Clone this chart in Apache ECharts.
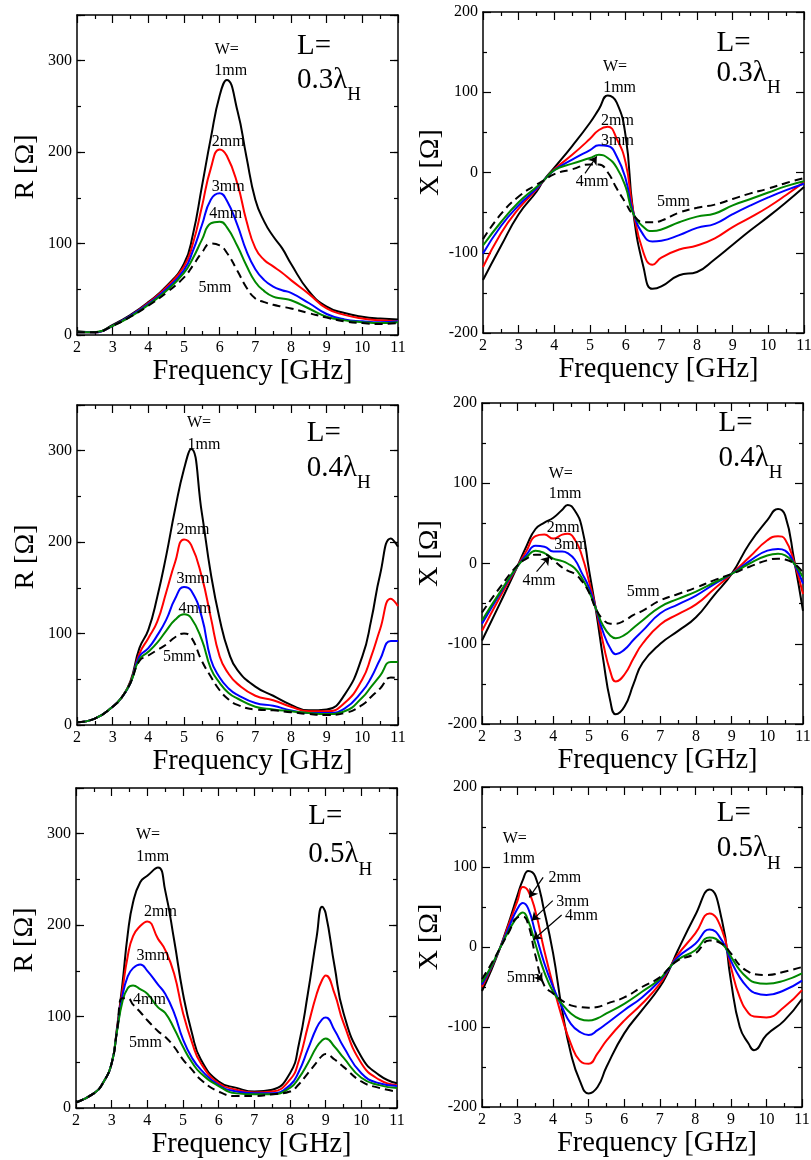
<!DOCTYPE html>
<html><head><meta charset="utf-8">
<script src="https://cdn.jsdelivr.net/npm/echarts@6/dist/echarts.min.js"></script>
<style>html,body{margin:0;padding:0;background:#fff}#c{width:811px;height:1160px}</style>
</head><body><div id="c"></div>
<script>
// ---------- DATA ----------
const widthLabels = ['1mm', '2mm', '3mm', '4mm', '5mm'];
const xTicks = [2, 3, 4, 5, 6, 7, 8, 9, 10, 11];

// L = 0.3 lambda_H, resistance R
const freqR03 = [2, 2.5, 3, 3.5, 4, 4.5, 5, 5.25, 5.5, 5.75, 6, 6.2, 6.5, 6.75, 7, 7.25, 7.5, 7.75, 8, 8.5, 9, 9.5, 10, 10.5, 11];
const R03_W1 = [4, 3, 11, 22, 36, 53, 78, 110, 162, 215, 262, 279, 245, 195, 148, 124, 108, 95, 78, 48, 31, 24, 20, 18, 17];
const R03_W2 = [3, 3, 10, 21, 35, 52, 75, 100, 140, 182, 203, 196, 165, 125, 95, 82, 75, 68, 60, 45, 29, 22, 18, 16, 15];
const R03_W3 = [3, 3, 10, 21, 34, 50, 71, 92, 120, 148, 155, 147, 120, 92, 72, 60, 53, 49, 46, 35, 23, 17, 15, 14, 15];
const R03_W4 = [3, 3, 10, 20, 33, 48, 68, 84, 104, 122, 124, 118, 97, 76, 58, 48, 42, 40, 38, 29, 20, 16, 14, 13, 14];
const R03_W5 = [3, 3, 10, 20, 32, 46, 63, 76, 90, 100, 98, 90, 70, 52, 40, 36, 33, 31, 29, 24, 19, 15, 13, 12, 13];

// L = 0.3 lambda_H, reactance X
const freqX03 = [2, 2.5, 3, 3.5, 3.7, 4, 4.5, 5, 5.25, 5.5, 5.75, 6, 6.2, 6.5, 6.75, 7, 7.5, 8, 8.5, 9, 9.5, 10, 10.5, 11];
const X03_W1 = [-134, -92, -52, -24, -10, 6, 33, 62, 79, 96, 87, 45, -45, -118, -145, -142, -128, -124, -108, -90, -72, -55, -37, -18];
const X03_W2 = [-118, -76, -45, -21, -10, 4, 22, 42, 53, 57, 42, 12, -45, -100, -115, -106, -96, -91, -82, -68, -56, -43, -28, -12];
const X03_W3 = [-101, -67, -41, -20, -10, 3, 16, 28, 34, 33, 20, -8, -48, -78, -86, -85, -78, -69, -64, -52, -41, -31, -22, -14];
const X03_W4 = [-91, -62, -37, -18, -10, 3, 11, 18, 22, 18, 6, -18, -50, -68, -73, -71, -62, -55, -51, -41, -33, -25, -17, -11];
const X03_W5 = [-83, -52, -30, -15, -10, -2, 4, 10, 10, 0, -20, -38, -52, -62, -62, -60, -50, -44, -40, -33, -26, -20, -13, -7];

// L = 0.4 lambda_H, resistance R
const freqR04 = [2, 2.5, 3, 3.25, 3.5, 3.75, 4, 4.25, 4.5, 4.75, 5, 5.2, 5.5, 5.75, 6, 6.25, 6.5, 7, 7.5, 8, 8.5, 9, 9.5, 10, 10.25, 10.5, 10.8, 11];
const R04_W1 = [3, 7, 20, 30, 48, 84, 104, 140, 185, 236, 280, 302, 232, 166, 116, 80, 60, 42, 32, 22, 16, 17, 33, 75, 115, 165, 204, 195];
const R04_W2 = [3, 7, 20, 30, 47, 78, 95, 113, 145, 178, 203, 197, 162, 118, 75, 56, 45, 32, 27, 20, 15, 15, 24, 50, 75, 105, 138, 130];
const R04_W3 = [3, 7, 20, 30, 46, 75, 84, 98, 115, 138, 151, 147, 118, 72, 52, 40, 33, 24, 21, 16, 13, 13, 18, 37, 52, 72, 92, 92];
const R04_W4 = [3, 7, 20, 30, 46, 72, 80, 90, 103, 115, 121, 117, 93, 62, 46, 35, 29, 20, 17, 15, 13, 12, 15, 30, 42, 54, 69, 69];
const R04_W5 = [3, 7, 20, 30, 46, 70, 76, 82, 88, 96, 100, 96, 70, 53, 38, 28, 22, 17, 16, 14, 12, 11, 13, 22, 31, 40, 52, 51];

// L = 0.4 lambda_H, reactance X
const freqX04 = [2, 2.5, 3, 3.25, 3.5, 3.75, 4, 4.25, 4.4, 4.6, 4.8, 5, 5.2, 5.4, 5.6, 5.75, 6, 6.25, 6.5, 7, 7.5, 8, 8.5, 9, 9.5, 10, 10.3, 10.5, 10.75, 11];
const X04_W1 = [-96, -50, -3, 22, 43, 51, 57, 67, 73, 66, 45, -8, -60, -120, -172, -188, -178, -150, -124, -100, -84, -67, -40, -13, 25, 54, 68, 60, 5, -59];
const X04_W2 = [-84, -42, -3, 16, 34, 36, 31, 36, 37, 30, 10, -22, -57, -100, -135, -147, -138, -118, -100, -76, -63, -51, -32, -13, 8, 29, 34, 30, 2, -38];
const X04_W3 = [-75, -38, -3, 11, 22, 21, 15, 15, 13, 5, -12, -30, -57, -86, -106, -113, -107, -95, -84, -62, -51, -40, -26, -13, 3, 16, 18, 16, 0, -25];
const X04_W4 = [-71, -36, -3, 8, 16, 13, 6, 3, 0, -6, -18, -35, -57, -78, -90, -93, -89, -80, -71, -54, -44, -35, -24, -13, 0, 10, 12, 10, 0, -17];
const X04_W5 = [-61, -30, -2, 6, 11, 11, 4, -5, -9, -13, -22, -36, -57, -70, -75, -75, -71, -64, -59, -46, -38, -30, -21, -13, -4, 4, 6, 5, 0, -11];

// L = 0.5 lambda_H, resistance R
const freqR05 = [2, 2.5, 2.75, 3, 3.15, 3.3, 3.45, 3.6, 3.8, 4, 4.3, 4.5, 4.75, 5, 5.25, 5.5, 6, 6.5, 7, 7.5, 8, 8.25, 8.5, 8.75, 8.9, 9, 9.25, 9.5, 10, 10.5, 11];
const R05_W1 = [6, 16, 27, 49, 88, 135, 190, 225, 247, 254, 263, 238, 184, 125, 82, 53, 29, 22, 18, 20, 38, 70, 125, 188, 220, 213, 155, 104, 56, 36, 27];
const R05_W2 = [6, 16, 27, 49, 86, 128, 166, 188, 199, 204, 185, 173, 147, 104, 72, 49, 27, 20, 17, 18, 31, 52, 89, 125, 140, 145, 125, 93, 49, 31, 25];
const R05_W3 = [6, 16, 27, 49, 85, 122, 144, 153, 157, 150, 135, 125, 104, 75, 55, 42, 25, 18, 16, 16, 25, 40, 64, 88, 97, 99, 85, 67, 38, 27, 24];
const R05_W4 = [6, 16, 27, 49, 84, 116, 131, 134, 130, 125, 110, 104, 87, 67, 50, 38, 24, 16, 15, 15, 22, 33, 49, 67, 74, 76, 67, 55, 33, 25, 22];
const R05_W5 = [6, 16, 27, 49, 84, 120, 120, 113, 105, 96, 84, 78, 67, 53, 42, 31, 18, 13, 13, 15, 18, 26, 38, 50, 57, 59, 53, 45, 29, 22, 18];

// L = 0.5 lambda_H, reactance X
const freqX05 = [2, 2.25, 2.5, 2.75, 3, 3.15, 3.3, 3.5, 3.75, 4, 4.25, 4.5, 4.75, 5, 5.25, 5.5, 6, 6.5, 7, 7.25, 7.5, 8, 8.4, 8.75, 9, 9.25, 9.5, 9.65, 10, 10.5, 11];
const X05_W1 = [-55, -30, -2, 30, 65, 84, 95, 88, 45, -8, -78, -133, -167, -183, -175, -150, -108, -79, -50, -30, -5, 40, 72, 33, -42, -100, -121, -129, -110, -92, -65];
const X05_W2 = [-50, -27, -2, 28, 58, 75, 70, 45, -4, -48, -88, -121, -142, -146, -133, -117, -92, -71, -46, -28, -10, 17, 42, 21, -25, -63, -83, -87, -88, -75, -54];
const X05_W3 = [-47, -26, -2, 24, 48, 55, 48, 18, -20, -50, -75, -96, -106, -110, -104, -96, -79, -63, -42, -28, -13, 4, 22, 8, -17, -38, -52, -57, -60, -54, -42];
const X05_W4 = [-44, -25, -2, 20, 38, 43, 33, 4, -31, -56, -71, -83, -90, -92, -89, -83, -71, -56, -40, -27, -16, -4, 12, 4, -12, -29, -40, -44, -46, -42, -33];
const X05_W5 = [-40, -22, -2, 18, 37, 38, 28, -10, -48, -58, -67, -73, -75, -76, -75, -71, -63, -50, -38, -27, -17, -8, 8, 4, -8, -23, -31, -34, -35, -31, -25];

// annotation texts: [text, freq, value]
const notesR03 = [['W=', 6.20, 312], ['1mm', 6.31, 289], ['2mm', 6.24, 211], ['3mm', 6.24, 162], ['4mm', 6.17, 133], ['5mm', 5.87, 52]];
const notesX03 = [['W=', 5.70, 132], ['1mm', 5.83, 106], ['2mm', 5.77, 65], ['3mm', 5.77, 40], ['4mm', 5.06, -11], ['5mm', 7.34, -37]];
const notesR04 = [['W=', 5.42, 330], ['1mm', 5.56, 307], ['2mm', 5.25, 213], ['3mm', 5.25, 160], ['4mm', 5.31, 127], ['5mm', 4.87, 75]];
const notesX04 = [['W=', 4.21, 112], ['1mm', 4.33, 87], ['2mm', 4.28, 44], ['3mm', 4.49, 23], ['4mm', 3.60, -21], ['5mm', 6.52, -35]];
const notesR05 = [['W=', 4.02, 299], ['1mm', 4.15, 275], ['2mm', 4.37, 215], ['3mm', 4.16, 166], ['4mm', 4.06, 118], ['5mm', 3.95, 71]];
const notesX05 = [['W=', 2.92, 135], ['1mm', 3.03, 110], ['2mm', 4.33, 86], ['3mm', 4.55, 57], ['4mm', 4.80, 39], ['5mm', 3.16, -38]];
// arrows: [fromFreq, fromVal, toFreq, toVal]
const arrowsX03 = [[4.86, -1, 5.19, 20]];
const arrowsX04 = [[3.53, -10, 3.89, 8.5]];
const arrowsX05 = [[3.72, 87, 3.33, 62], [3.99, 58, 3.40, 33], [4.24, 40, 3.44, 9], [3.56, -34, 3.70, -43]];
// L labels: [line1, number, subscript, freq, value1, value2]
const lLabels = [
  ['L=', '0.3λ', 'H', 8.17, 316, 279],
  ['L=', '0.3λ', 'H', 8.55, 161, 124],
  ['L=', '0.4λ', 'H', 8.44, 319, 281],
  ['L=', '0.4λ', 'H', 8.63, 175, 131],
  ['L=', '0.5λ', 'H', 8.51, 319, 277],
  ['L=', '0.5λ', 'H', 8.60, 167, 123]
];

// ---------- CHART ----------
const FONT = '"Liberation Serif","Times New Roman",serif';
const colors = ['#000000', '#ff0000', '#0000ff', '#008800', '#000000'];
const lineTypes = ['solid', 'solid', 'solid', 'solid', [8, 5]];

const panels = [
  {kind: 'R', freq: freqR03, vals: [R03_W1, R03_W2, R03_W3, R03_W4, R03_W5], notes: notesR03, arrows: [], rect: {left: 77, top: 15, width: 321, height: 320}},
  {kind: 'X', freq: freqX03, vals: [X03_W1, X03_W2, X03_W3, X03_W4, X03_W5], notes: notesX03, arrows: arrowsX03, rect: {left: 483, top: 12, width: 321, height: 321}},
  {kind: 'R', freq: freqR04, vals: [R04_W1, R04_W2, R04_W3, R04_W4, R04_W5], notes: notesR04, arrows: [], rect: {left: 77, top: 405, width: 321, height: 320}},
  {kind: 'X', freq: freqX04, vals: [X04_W1, X04_W2, X04_W3, X04_W4, X04_W5], notes: notesX04, arrows: arrowsX04, rect: {left: 482, top: 403, width: 321, height: 321}},
  {kind: 'R', freq: freqR05, vals: [R05_W1, R05_W2, R05_W3, R05_W4, R05_W5], notes: notesR05, arrows: [], rect: {left: 76, top: 788, width: 321, height: 320}},
  {kind: 'X', freq: freqX05, vals: [X05_W1, X05_W2, X05_W3, X05_W4, X05_W5], notes: notesX05, arrows: arrowsX05, rect: {left: 482, top: 787, width: 320, height: 320}}
];

const grids = [], xAxes = [], yAxes = [], series = [];
const axisLineStyle = {color: '#000', width: 1.5};
const tickStyle = {color: '#000', width: 1.2};

panels.forEach((p, g) => {
  grids.push(Object.assign({containLabel: false, outerBoundsMode: 'none', show: false}, p.rect));
  const xi = xAxes.length;
  [['bottom', true], ['top', false]].forEach(([pos, lab]) => {
    xAxes.push({
      gridIndex: g, type: 'value', position: pos, min: xTicks[0], max: xTicks[xTicks.length - 1], interval: 1,
      axisLine: {show: true, onZero: false, lineStyle: axisLineStyle},
      axisTick: {show: true, inside: true, length: 8, lineStyle: tickStyle},
      minorTick: {show: true, splitNumber: 2, length: 4, lineStyle: tickStyle},
      splitLine: {show: false}, minorSplitLine: {show: false},
      axisLabel: {show: lab, fontFamily: FONT, fontSize: 16, color: '#000', margin: 5},
      name: lab ? 'Frequency [GHz]' : '', nameLocation: 'middle', nameGap: 10,
      nameTextStyle: {fontFamily: FONT, fontSize: 28.5, color: '#000', padding: [0, 0, 0, 30]}
    });
  });
  const yi = yAxes.length;
  const isR = p.kind === 'R';
  const ymin = isR ? 0 : -200, ymax = isR ? 350 : 200;
  [['left', true], ['right', false]].forEach(([pos, lab]) => {
    yAxes.push({
      gridIndex: g, type: 'value', position: pos, min: ymin, max: ymax, interval: 100,
      axisLine: {show: true, onZero: false, lineStyle: axisLineStyle},
      axisTick: {show: true, inside: true, length: 8, lineStyle: tickStyle},
      minorTick: {show: !isR, splitNumber: 2, length: 4, lineStyle: tickStyle},
      splitLine: {show: false}, minorSplitLine: {show: false},
      axisLabel: {show: lab, fontFamily: FONT, fontSize: 16, color: '#000', margin: 5,
        formatter: v => (v % 100 === 0 ? String(v) : '')},
      name: lab ? (isR ? 'R [Ω]' : 'X [Ω]') : '', nameLocation: 'middle',
      nameGap: isR ? 37 : 32, nameRotate: 90,
      nameTextStyle: {fontFamily: FONT, fontSize: 28, color: '#000', padding: [0, 0, 0, isR ? 16 : 20]}
    });
  });
  if (isR) {
    ['left', 'right'].forEach(pos => {
      yAxes.push({
        gridIndex: g, type: 'value', position: pos, min: ymin, max: ymax, interval: 50,
        axisLine: {show: false, onZero: false},
        axisTick: {show: true, inside: true, length: 4, lineStyle: tickStyle},
        splitLine: {show: false}, axisLabel: {show: false}
      });
    });
  }
  p.xi = xi; p.yi = yi;
  p.vals.forEach((vals, k) => {
    const s = {
      type: 'line', name: widthLabels[k], xAxisIndex: xi, yAxisIndex: yi,
      data: p.freq.map((f, i) => [f, vals[i]]),
      showSymbol: false, symbol: 'none', smooth: 0.5,
      lineStyle: {color: colors[k], width: 2, type: lineTypes[k]},
      silent: true, animation: false, z: 3
    };
    if (k === 4 && p.arrows.length) {
      s.markLine = {
        silent: true, animation: false, symbol: ['none', 'arrow'], symbolSize: 8,
        label: {show: false}, emphasis: {disabled: true},
        lineStyle: {color: '#000', width: 1.2, type: 'solid'},
        data: p.arrows.map(a => [{coord: [a[0], a[1]]}, {coord: [a[2], a[3]]}])
      };
    }
    series.push(s);
  });
});

const chart = echarts.init(document.getElementById('c'), null, {renderer: 'canvas'});
chart.setOption({
  animation: false, backgroundColor: '#fff',
  grid: grids, xAxis: xAxes, yAxis: yAxes, series: series
});

const graphics = [];
function txt(t, x, y, size, align) {
  return {type: 'text', x: x, y: y, z: 100, silent: true,
    style: {text: t, fontFamily: FONT, fontSize: size, fill: '#000',
      align: align, verticalAlign: 'middle', textAlign: align, textVerticalAlign: 'middle'}};
}
panels.forEach((p, g) => {
  p.notes.forEach(([t, x, y]) => {
    const pt = chart.convertToPixel({xAxisIndex: p.xi, yAxisIndex: p.yi}, [x, y]);
    graphics.push(txt(t, pt[0], pt[1], 16, 'center'));
  });
  const L = lLabels[g];
  const p1 = chart.convertToPixel({xAxisIndex: p.xi, yAxisIndex: p.yi}, [L[3], L[4]]);
  const p2 = chart.convertToPixel({xAxisIndex: p.xi, yAxisIndex: p.yi}, [L[3], L[5]]);
  graphics.push(txt(L[0], p1[0], p1[1], 29, 'left'));
  graphics.push({type: 'text', x: p2[0], y: p2[1], z: 100, silent: true,
    style: {text: '{a|' + L[1] + '}{b|' + L[2] + '}', align: 'left', verticalAlign: 'middle',
      textAlign: 'left', textVerticalAlign: 'middle',
      rich: {a: {fontFamily: FONT, fontSize: 29, fill: '#000'},
             b: {fontFamily: FONT, fontSize: 19, fill: '#000', padding: [30, 0, 0, 0]}}}});
});
chart.setOption({graphic: graphics});
</script>
</body></html>
